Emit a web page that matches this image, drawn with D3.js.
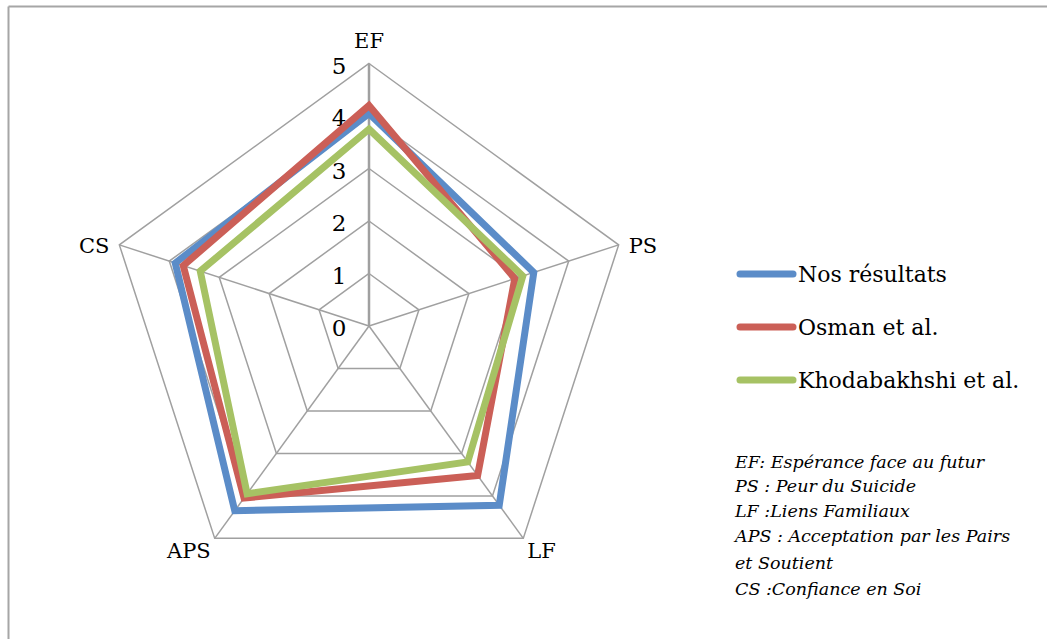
<!DOCTYPE html>
<html>
<head>
<meta charset="utf-8">
<script src="https://cdnjs.cloudflare.com/ajax/libs/d3/7.8.5/d3.min.js"></script>
<style>
body{margin:0;background:#fff}
svg{display:block}
</style>
</head>
<body>
<svg id="chart"></svg>
<script>
// data
var axes=["EF","PS","LF","APS","CS"]
var ticks=[0,1,2,3,4,5]
var seriesNames=["Nos résultats","Osman et al.","Khodabakhshi et al."]
var nosResultats=[4.05,3.3,4.22,4.35,3.88]
var osman=[4.2,2.92,3.52,4.05,3.72]
var khodabakhshi=[3.75,3.08,3.2,3.95,3.38]
var notes=["EF: Espérance face au futur","PS : Peur du Suicide","LF :Liens Familiaux","APS : Acceptation par les Pairs","et Soutient","CS :Confiance en Soi"]

var width=1047
var height=639
var colors=["#5B8CC8","#CB5F57","#A6C264"]
var allSeries=[nosResultats,osman,khodabakhshi]
var font="'DejaVu Serif', serif"

var svg=d3.select("#chart")
    .attr("width",width)
    .attr("height",height)

// frame (only top and left are visible)
svg.append("line").attr("x1",8.5).attr("y1",6.5).attr("x2",width).attr("y2",6.5)
    .attr("stroke","#a6a6a6").attr("stroke-width",2)
svg.append("line").attr("x1",8.5).attr("y1",6.5).attr("x2",8.5).attr("y2",height)
    .attr("stroke","#a6a6a6").attr("stroke-width",2)

var cx=369, cy=326
var r=d3.scaleLinear().domain([0,5]).range([0,262.5])
var angle=d3.scaleLinear().domain([0,axes.length]).range([-Math.PI/2,Math.PI*1.5])

var pt=function(i,v){
    var a=angle(i)
    return [cx+r(v)*Math.cos(a),cy+r(v)*Math.sin(a)]
}

var g=svg.append("g")

// rings
ticks.slice(1).forEach(function(t){
    var pts=axes.map(function(d,i){return pt(i,t)})
    g.append("polygon")
        .attr("points",pts.map(function(p){return p.join(",")}).join(" "))
        .attr("fill","none")
        .attr("stroke","#a0a0a0")
        .attr("stroke-width",1.5)
})

// spokes
axes.forEach(function(d,i){
    var p=pt(i,5)
    g.append("line")
        .attr("x1",cx).attr("y1",cy)
        .attr("x2",p[0]).attr("y2",p[1])
        .attr("stroke","#a0a0a0")
        .attr("stroke-width",i==0?2.5:1.5)
})

// tick labels
g.selectAll(".tick")
    .data(ticks)
    .enter()
    .append("text")
    .attr("class","tick")
    .attr("x",cx-30)
    .attr("y",function(t){return cy-r(t)+2})
    .attr("text-anchor","middle")
    .attr("dominant-baseline","central")
    .style("font-family",font)
    .attr("font-size",23)
    .attr("fill","#000")
    .text(function(t){return t})

// axis labels
var labelPos=[
    {dx:0,dy:-16,anchor:"middle"},
    {dx:10,dy:8,anchor:"start"},
    {dx:4,dy:20,anchor:"start"},
    {dx:-4,dy:20,anchor:"end"},
    {dx:-10,dy:8,anchor:"end"}
]
axes.forEach(function(d,i){
    var p=pt(i,5)
    g.append("text")
        .attr("x",p[0]+labelPos[i].dx)
        .attr("y",p[1]+labelPos[i].dy)
        .attr("text-anchor",labelPos[i].anchor)
        .style("font-family",font)
        .attr("font-size",21)
        .text(d)
})

// series
var line=d3.line().curve(d3.curveLinearClosed)
allSeries.forEach(function(s,k){
    g.append("path")
        .attr("d",line(s.map(function(v,i){return pt(i,v)})))
        .attr("fill","none")
        .attr("stroke",colors[k])
        .attr("stroke-width",7)
        .attr("stroke-linejoin","miter")
})

// legend
var legend=svg.append("g").attr("transform","translate(738,274)")
seriesNames.forEach(function(n,k){
    var row=legend.append("g").attr("transform","translate(0,"+(k*53)+")")
    row.append("line")
        .attr("x1",2).attr("x2",55).attr("y1",0).attr("y2",0)
        .attr("stroke",colors[k])
        .attr("stroke-width",7)
        .attr("stroke-linecap","round")
    row.append("text")
        .attr("x",60).attr("y",8)
        .style("font-family",font)
        .attr("font-size",22)
        .text(n)
})

// abbreviations
var noteY=[468,492,517,542,569,595]
svg.selectAll(".note")
    .data(notes)
    .enter()
    .append("text")
    .attr("class","note")
    .attr("x",735)
    .attr("y",function(d,i){return noteY[i]})
    .style("font-family",font)
    .attr("font-style","italic")
    .attr("font-size",17.5)
    .text(function(d){return d})
</script>
</body>
</html>
